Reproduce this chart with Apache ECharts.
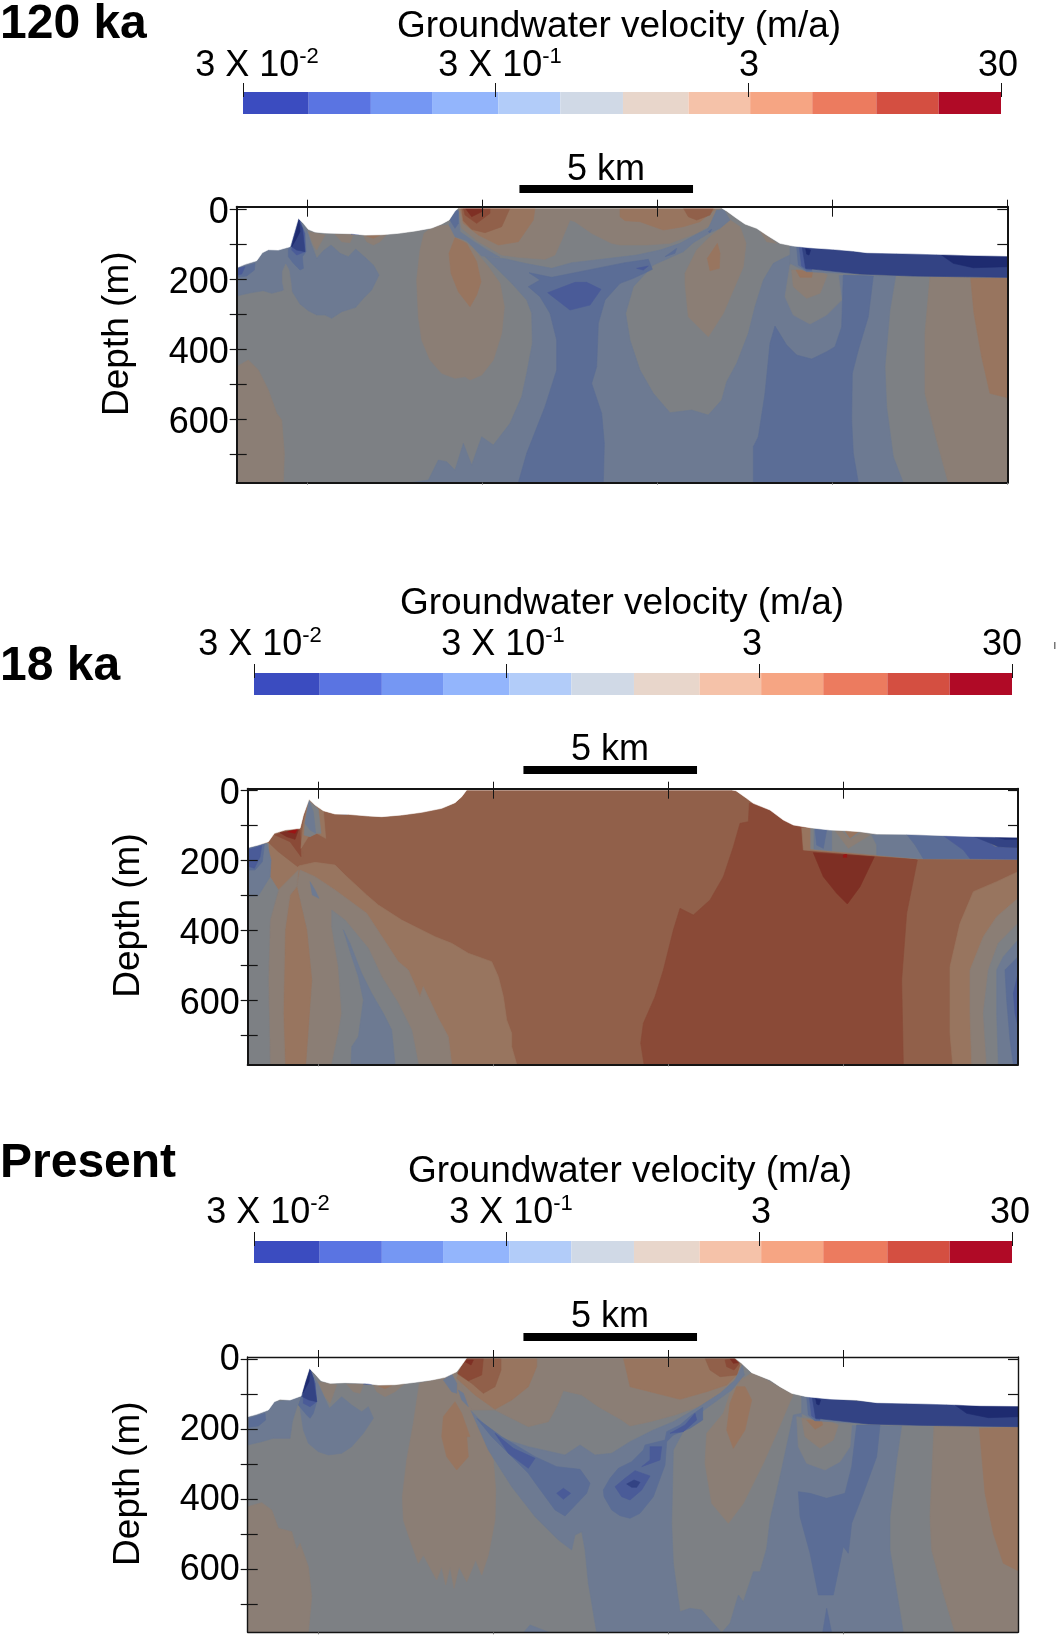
<!DOCTYPE html>
<html><head><meta charset="utf-8">
<style>html,body{margin:0;padding:0;background:#fff}#c{width:1057px;height:1637px}</style>
<script src="https://cdn.jsdelivr.net/npm/echarts@6/dist/echarts.min.js"></script>
</head><body><div id="c"></div>
<script>
// ---------- colour bar values ----------
const velocityEdges = [0.03,0.0546,0.0962,0.168,0.307,0.541,0.957,1.74,3.05,5.37,9.63,17,30];
const velocityTicks = [0.03,0.3,3,30];
const velocityLabels = [['3 X 10','-2'],['3 X 10','-1'],['3',''],['30','']];
const barColors = ['#3b4cc0','#5a74e2','#7597f3','#93b5fc','#b2ccf9','#d0d9e6','#e8d6cb','#f5c2a9','#f6a583','#ec7b5f','#d44f41','#b00a26'];
const depthTicks = [0,100,200,300,400,500,600,700];
const depthLabels = [0,200,400,600];
const distanceTicks = [0,5,10,15,20];
const scaleBarKm = [[6.06,11.02],[5.85,10.81],[5.85,10.81]];
const panelNames = ['120 ka','18 ka','Present'];

// digitised section outlines, one unit = 1/105 km along, 1/1.05 m down
const p1_surface = [[35,203],[60,193],[95,182],[112,158],[130,149],[160,150],[195,140],[207,100],[220,55],[235,70],[250,88],[270,96],[300,99],[330,100],[380,101],[420,105],[470,104],[520,100],[570,93],[620,84],[650,72],[672,60],[690,33],[700,24],[1490,24],[1505,33],[1535,55],[1560,72],[1595,85],[1625,105],[1665,130],[1705,138],[1755,143],[1825,148],[1885,153],[1925,158],[2015,160],[2135,163],[2235,166],[2347,168]];
const p2_surface = [[38,203],[70,195],[100,185],[118,160],[150,150],[195,145],[205,105],[222,58],[240,75],[265,92],[300,102],[340,103],[400,108],[440,110],[500,105],[560,97],[620,85],[660,68],[680,50],[695,30],[1490,30],[1503,32],[1535,55],[1555,70],[1605,90],[1645,120],[1675,135],[1725,143],[1785,150],[1835,152],[1875,155],[1925,162],[2015,163],[2135,167],[2235,170],[2349,172]];
const p3_surface = [[38,200],[65,193],[100,180],[118,155],[135,148],[165,150],[198,138],[210,95],[223,55],[240,72],[258,92],[285,100],[330,98],[390,100],[430,105],[480,104],[540,97],[590,90],[630,82],[665,65],[680,45],[695,24],[1500,24],[1520,40],[1550,68],[1605,90],[1635,110],[1670,130],[1715,140],[1785,147],[1865,150],[1925,158],[2015,160],[2135,163],[2235,167],[2349,168]];

// contour bands, painted in order, as [velocity class, outline]
const p1_bands = [
['o1',[[35,500],[70,480],[100,510],[130,570],[155,640],[170,660],[178,760],[175,848],[35,848]]],
['b1',[[35,288],[60,282],[85,277],[115,272],[140,280],[170,272],[195,260],[205,280],[225,312],[250,332],[275,345],[300,345],[320,355],[350,335],[392,322],[415,295],[440,270],[462,225],[445,195],[420,172],[392,147],[370,170],[345,160],[318,135],[295,152],[275,175],[258,130],[245,90],[220,50],[195,135],[112,150],[35,190]]],
['g',[[172,215],[182,192],[192,210],[198,250],[200,272],[178,274],[172,245]]],
['b2',[[190,170],[205,190],[225,210],[235,205],[232,170],[243,155],[240,100],[222,55],[200,120],[190,150]]],
['b3',[[200,150],[215,165],[240,155],[238,100],[222,55],[205,115]]],
['b4',[[200,140],[215,150],[240,155],[232,85],[220,58],[205,110]]],
['b5',[[222,58],[212,100],[200,140],[212,120],[225,95]]],
['b2',[[38,205],[90,190],[88,210],[65,228],[38,232]]],
['b3',[[38,205],[60,200],[50,222],[38,225]]],
['o1',[[250,95],[265,135],[275,150],[300,105]]],
['o1',[[330,103],[385,103],[375,128],[350,125]]],
['o1',[[415,105],[485,103],[465,125],[445,135],[425,125]]],
['o2',[[425,108],[465,106],[445,115]]],
['b3',[[378,102],[390,97],[402,104]]],
['o1',[[597,100],[585,150],[575,240],[580,350],[590,420],[615,480],[650,520],[690,535],[720,530],[735,540],[770,525],[805,480],[830,400],[838,320],[825,250],[790,200],[765,170],[740,140],[700,110],[670,75],[640,78],[610,90]]],
['o2',[[690,113],[672,160],[678,220],[700,275],[735,320],[755,285],[768,245],[755,185],[725,130]]],
['o1',[[700,24],[1485,24],[1465,70],[1415,100],[1335,130],[1265,135],[1185,135],[1160,130],[1100,100],[1050,65],[1035,60],[1010,120],[990,165],[960,178],[880,172],[830,165],[760,125],[710,85]]],
['o2',[[705,24],[930,24],[925,60],[880,125],[820,135],[760,105],[715,70]]],
['o2',[[1185,24],[1470,28],[1425,65],[1375,80],[1315,90],[1245,65],[1200,62],[1185,50]]],
['o3',[[710,24],[855,24],[830,80],[780,98],[740,88],[715,62]]],
['o3',[[1375,24],[1465,24],[1455,45],[1415,60],[1390,50]]],
['o4',[[715,24],[795,24],[795,40],[755,70],[720,45]]],
['o5',[[722,26],[775,26],[770,35],[740,50]]],
['o1',[[1380,250],[1390,350],[1450,410],[1495,340],[1555,200],[1563,130],[1545,80],[1515,60],[1455,110],[1415,150],[1380,220]]],
['o2',[[1447,175],[1455,212],[1483,205],[1485,160],[1477,130]]],
['o1',[[2115,230],[2100,400],[2100,580],[2135,720],[2170,848],[2347,848],[2347,232]]],
['o2',[[2237,235],[2247,340],[2270,470],[2295,580],[2343,592],[2347,595],[2347,232]]],
['o1',[[1605,92],[1655,130],[1625,125]]],
['b1',[[672,75],[690,110],[725,122],[770,168],[825,172],[790,152],[748,125],[705,95],[700,35],[690,32]]],
['b2',[[675,60],[692,30],[700,32],[700,70],[690,85]]],
['b1',[[780,170],[840,176],[900,190],[980,205],[1040,188],[1110,180],[1235,165],[1305,150],[1365,130],[1410,105],[1450,85],[1475,30],[1497,30],[1515,60],[1485,85],[1455,98],[1405,128],[1375,155],[1285,195],[1225,260],[1202,340],[1215,420],[1245,510],[1285,580],[1335,638],[1400,630],[1450,645],[1490,600],[1505,545],[1535,490],[1570,400],[1590,320],[1615,240],[1645,190],[1680,172],[1695,165],[1695,225],[2012,228],[1995,330],[1980,500],[1985,620],[2005,770],[2035,848],[555,848],[610,840],[640,780],[665,785],[690,810],[715,730],[740,795],[770,710],[805,735],[855,670],[890,590],[905,520],[922,430],[920,340],[905,300],[860,250],[810,200]]],
['b2',[[912,218],[980,232],[1080,212],[1200,188],[1270,178],[1282,208],[1225,235],[1185,250],[1140,300],[1120,370],[1115,500],[1100,550],[1130,640],[1138,730],[1135,848],[880,848],[905,760],[960,620],[995,510],[995,420],[975,340],[945,290],[910,260],[945,240]]],
['b3',[[968,278],[1050,247],[1085,247],[1128,268],[1095,315],[1035,330]]],
['b3',[[1235,205],[1270,198],[1255,210]]],
['b2',[[1320,170],[1355,145],[1350,160]]],
['b2',[[1450,95],[1460,88],[1455,98]]],
['b2',[[1650,378],[1635,430],[1620,580],[1600,710],[1585,740],[1585,848],[1900,848],[1885,760],[1880,660],[1882,520],[1900,450],[1930,350],[1945,228],[1855,225],[1850,380],[1830,440],[1805,455],[1760,477],[1715,465],[1685,435]]],
['g',[[1695,195],[1680,290],[1705,345],[1755,372],[1805,345],[1850,300],[1840,222]]],
['o1',[[1700,210],[1705,260],[1745,295],[1785,280],[1807,225],[1775,210]]],
['o2',[[1713,210],[1725,232],[1760,232],[1763,215]]],
['b1',[[1695,140],[1695,190],[1745,215],[1905,222],[2065,228],[2347,232],[2347,168],[1925,158],[1825,148],[1705,138]]],
['b2',[[1715,141],[1720,195],[1745,213],[1760,213],[1760,143]]],
['b3',[[1723,142],[1730,198],[1745,208],[1760,208],[1760,143]]],
['b4',[[1732,143],[1742,205],[1905,222],[2065,228],[2347,232],[2347,168],[2135,163],[2015,160],[1925,158],[1825,148]]],
['b5',[[2150,165],[2185,190],[2245,203],[2347,200],[2347,170]]],
['b5',[[1742,146],[1757,150],[1752,165],[1745,162]]]
];

const p2_bands = [
['o4',[[1543,70],[1540,125],[1515,130],[1495,200],[1465,290],[1425,360],[1375,405],[1335,385],[1315,450],[1285,570],[1260,650],[1225,730],[1217,790],[1227,853],[2005,853],[2000,600],[2015,400],[2047,240],[1725,145],[1675,135],[1645,120],[1605,90],[1555,70]]],
['o5',[[1735,218],[1765,290],[1805,340],[1837,372],[1875,320],[1918,230]]],
['o6',[[1825,225],[1835,222],[1835,232],[1825,232]]],
['o2',[[2349,275],[2285,305],[2215,335],[2175,430],[2145,560],[2145,760],[2153,853],[2349,853]]],
['o1',[[2349,355],[2285,410],[2245,470],[2205,570],[2205,700],[2210,853],[2349,853]]],
['g',[[2349,430],[2290,490],[2260,570],[2245,700],[2255,853],[2349,853]]],
['b1',[[2349,480],[2305,530],[2285,570],[2285,700],[2290,853],[2349,853]]],
['b2',[[2349,530],[2310,570],[2315,660],[2325,780],[2335,853],[2349,853]]],
['b3',[[2349,580],[2335,640],[2340,700],[2349,740]]],
['o2',[[100,185],[190,258],[240,247],[300,255],[330,285],[395,345],[430,375],[500,420],[600,470],[650,490],[700,520],[770,545],[790,590],[805,650],[815,720],[830,760],[830,800],[845,853],[38,853],[38,203]]],
['o1',[[195,270],[240,290],[300,330],[395,400],[490,545],[520,570],[555,650],[565,620],[610,715],[640,770],[650,853],[212,853],[230,600],[215,450],[185,320]]],
['o2',[[185,320],[165,345],[150,450],[145,700],[150,853],[212,853],[230,600],[215,450]]],
['o1',[[190,270],[130,330],[105,420],[100,600],[105,853],[150,853],[145,700],[150,450],[165,345],[185,320]]],
['g',[[38,853],[105,853],[100,600],[105,420],[130,330],[105,290],[100,190],[38,205]]],
['b1',[[38,350],[70,347],[105,290],[108,240],[95,190],[38,205]]],
['b2',[[38,270],[60,270],[82,245],[88,192],[38,205]]],
['b3',[[38,210],[80,197],[75,230],[58,265],[38,258]]],
['g',[[290,390],[330,420],[400,505],[440,590],[490,670],[530,750],[550,853],[290,853],[310,760],[320,700],[310,560],[290,440]]],
['b1',[[325,450],[345,490],[380,580],[410,640],[445,700],[470,750],[480,853],[348,853],[350,800],[370,770],[385,660],[370,590],[350,530]]],
['b1',[[225,305],[240,330],[252,355],[232,345]]],
['o3',[[100,187],[118,160],[150,150],[195,145],[205,230],[188,260],[130,215]]],
['o4',[[120,165],[150,155],[195,150],[198,230],[165,185]]],
['o5',[[135,158],[190,150],[180,178],[155,170]]],
['o6',[[158,155],[187,148],[180,160]]],
['o2',[[198,205],[205,130],[222,58],[265,92],[272,175],[245,160],[220,170]]],
['g',[[207,165],[210,128],[222,62],[250,88],[258,160],[245,160],[225,170]]],
['b1',[[210,130],[222,62],[235,95],[242,160],[225,150]]],
['b2',[[315,101],[325,98],[335,103]]],
['b2',[[385,104],[395,100],[410,106]]],
['o2',[[1700,143],[1705,210],[1925,228],[2045,236],[2349,238],[2349,172],[2135,167],[1925,162],[1835,152],[1725,145]]],
['g',[[1727,145],[1727,207],[1925,225],[2045,236],[2349,238],[2349,172],[2135,167],[1925,162],[1835,152]]],
['b1',[[1737,146],[1737,207],[1790,212],[1790,150]]],
['b2',[[1740,147],[1745,195],[1765,205],[1775,150]]],
['o1',[[1800,152],[1840,205],[1905,165],[1880,157],[1845,180],[1820,152]]],
['o2',[[1830,152],[1845,175],[1870,155]]],
['b1',[[1910,165],[2015,163],[2040,195],[2065,236],[1925,225],[1925,195]]],
['b2',[[2015,163],[2125,167],[2185,210],[2205,236],[2065,236],[2040,195]]],
['b3',[[2125,167],[2235,170],[2280,200],[2349,205],[2349,238],[2205,236],[2185,210]]],
['b4',[[2215,169],[2255,185],[2290,200],[2349,203],[2349,172]]],
['b5',[[2280,171],[2310,178],[2349,178],[2349,172]]]
];

const p3_bands = [
['o1',[[38,470],[80,458],[110,480],[130,535],[170,545],[185,600],[195,580],[220,650],[230,740],[220,848],[38,848]]],
['b1',[[38,285],[80,275],[115,265],[165,265],[172,215],[178,195],[195,140],[165,150],[118,155],[38,195]]],
['b1',[[195,175],[205,240],[220,280],[250,305],[280,315],[320,310],[350,290],[385,250],[415,205],[400,170],[380,185],[350,165],[320,140],[283,175],[265,135],[248,100],[225,55],[198,138]]],
['b2',[[190,165],[215,195],[225,205],[235,190],[245,155],[240,100],[225,58],[200,135]]],
['b3',[[205,160],[225,170],[245,155],[240,100],[225,58],[205,120]]],
['b4',[[202,140],[222,150],[245,155],[235,85],[225,58]]],
['b5',[[225,58],[203,130],[222,95]]],
['b2',[[42,205],[90,190],[92,210],[70,228],[42,232]]],
['o1',[[250,95],[270,140],[285,160],[305,105]]],
['o1',[[335,103],[385,103],[375,130],[355,125]]],
['o1',[[415,105],[510,100],[480,125],[450,140],[425,125]]],
['o2',[[430,108],[470,107],[450,116]]],
['b3',[[385,102],[395,97],[410,104]]],
['o1',[[640,75],[695,24],[1500,24],[1520,40],[1525,90],[1405,165],[1320,195],[1245,215],[1185,228],[1160,210],[1090,170],[1040,135],[985,122],[965,170],[940,215],[880,230],[780,180],[710,180]]],
['o1',[[553,100],[535,220],[515,330],[502,440],[505,510],[525,570],[550,640],[565,615],[605,690],[620,650],[632,705],[645,650],[657,715],[672,650],[695,695],[722,630],[740,675],[760,615],[780,510],[782,420],[775,330],[745,260],[720,210],[710,180],[660,60],[620,85]]],
['o2',[[660,155],[625,200],[620,260],[635,320],[665,360],[700,320],[695,260],[705,260],[680,190]]],
['o1',[[1415,250],[1410,340],[1430,460],[1480,520],[1525,460],[1585,340],[1625,250],[1665,155],[1675,135],[1595,90],[1550,68],[1520,90],[1485,130],[1465,190]]],
['o2',[[1475,240],[1495,295],[1530,240],[1550,150],[1530,110],[1505,110],[1485,160]]],
['o1',[[2097,228],[2085,500],[2090,600],[2125,730],[2160,848],[2349,848],[2349,232]]],
['o2',[[2233,235],[2250,430],[2275,550],[2305,640],[2349,662],[2349,232]]],
['o2',[[665,85],[720,135],[780,178],[830,150],[880,110],[905,50],[905,24],[690,24]]],
['o2',[[1165,24],[1500,24],[1510,70],[1475,105],[1415,125],[1335,148],[1245,125],[1185,110],[1175,65]]],
['o3',[[668,72],[710,100],[745,130],[780,110],[798,60],[798,24],[695,24]]],
['o3',[[1410,24],[1425,60],[1455,80],[1505,75],[1515,45],[1497,24]]],
['o4',[[668,70],[700,92],[740,75],[745,24],[695,24]]],
['o4',[[1470,30],[1475,50],[1497,60],[1513,40],[1495,26]]],
['o5',[[690,35],[708,45],[715,30],[695,30]]],
['o5',[[1485,26],[1495,40],[1510,38],[1498,26]]],
['b1',[[625,90],[650,72],[665,100],[665,130],[650,125]]],
['b1',[[670,120],[685,130],[700,170],[680,150]]],
['b1',[[708,182],[750,225],[800,265],[880,290],[990,315],[1035,285],[1080,315],[1130,310],[1185,275],[1255,240],[1315,215],[1385,175],[1455,130],[1500,90],[1522,45],[1528,75],[1490,120],[1410,178],[1355,225],[1315,300],[1310,520],[1315,640],[1335,785],[1365,775],[1400,780],[1460,848],[1485,820],[1510,735],[1525,755],[1555,665],[1575,665],[1595,595],[1605,510],[1635,380],[1675,195],[1700,190],[1700,225],[2000,228],[1985,330],[1965,500],[1965,600],[2005,848],[1085,848],[1060,700],[1050,600],[1040,545],[1020,555],[1010,600],[970,570],[900,500],[830,410],[760,300]]],
['b1',[[865,848],[885,825],[945,848]]],
['b2',[[725,205],[800,260],[900,320],[965,350],[1035,358],[1065,400],[1055,430],[990,498],[960,480],[905,405],[880,370],[820,310],[770,260]]],
['b3',[[780,250],[835,295],[900,325],[880,355],[820,310]]],
['b3',[[965,430],[985,415],[1007,430],[985,448]]],
['b2',[[1105,420],[1125,385],[1150,355],[1190,335],[1225,300],[1230,285],[1290,270],[1295,245],[1335,225],[1370,195],[1403,172],[1403,210],[1365,235],[1315,255],[1295,275],[1290,345],[1255,440],[1215,490],[1185,505],[1155,497],[1130,480],[1107,440]]],
['b3',[[1140,410],[1170,385],[1200,362],[1245,378],[1220,420],[1185,450],[1160,440]]],
['b4',[[1175,402],[1197,390],[1215,397],[1205,412],[1190,412]]],
['b3',[[1245,290],[1280,290],[1275,330],[1220,350],[1245,330]]],
['b3',[[1305,250],[1350,225],[1380,190],[1385,210],[1345,245]]],
['b2',[[1690,425],[1695,500],[1725,610],[1750,735],[1795,735],[1825,590],[1840,610],[1850,520],[1885,430],[1925,320],[1935,225],[1865,225],[1850,350],[1830,430],[1775,445],[1725,430]]],
['b2',[[1775,775],[1763,848],[1790,848]]],
['g',[[1685,200],[1690,290],[1715,340],[1770,360],[1815,335],[1845,290],[1850,225]]],
['o1',[[1700,205],[1710,260],[1755,295],[1795,270],[1810,225],[1775,210]]],
['o2',[[1715,210],[1740,238],[1763,225],[1760,212]]],
['b1',[[1700,140],[1700,190],[1740,212],[1900,222],[2055,226],[2349,230],[2349,168],[1925,158],[1825,150],[1725,140]]],
['b2',[[1715,141],[1720,195],[1740,212],[1755,212],[1755,143]]],
['b3',[[1723,142],[1730,198],[1745,208],[1755,208],[1755,143]]],
['b4',[[1732,143],[1742,205],[1900,222],[2055,226],[2349,230],[2349,168],[2135,163],[2015,160],[1925,158],[1825,150]]],
['b5',[[2160,165],[2195,190],[2260,203],[2349,200],[2349,170]]],
['b5',[[1742,146],[1757,150],[1752,165],[1745,162]]]
];

// ---------- class colours and page layout (not data) ----------
const classColors = {g:'#7d8084',b1:'#6d7a92',b2:'#5b6d96',b3:'#4a5b98',b4:'#334384',b5:'#1e2b70',
  o1:'#8b7e75',o2:'#98755f',o3:'#91604a',o4:'#8a4a37',o5:'#7e2f24',o6:'#9c1414'};
const panels = [
 {surface:p1_surface,bands:p1_bands,base:'g', x0:247,z0:27,l:35,r:2347,t:20,b:848,lw:2,labPad:8,
  grid:[236.7,206.7,770.6,276], bar:[243,92,758,22], lab:25, title:[619,27], ticks:[[257,66],[500,66],[749,66],[998,66]], sc:[606,170,-57,189]},
 {surface:p2_surface,bands:p2_bands,base:'o3',x0:251,z0:30,l:38,r:2349,t:26,b:853,lw:2,labPad:9,
  grid:[247.7,788.7,770.3,275.6], bar:[254,673,758,22], lab:667, title:[622,604], ticks:[[260,645],[503,645],[752,645],[1002,645]], sc:[610,750,-57,770]},
 {surface:p3_surface,bands:p3_bands,base:'g', x0:251,z0:27,l:38,r:2349,t:21,b:847,lw:1.4,labPad:2,
  grid:[247.7,1357,770.3,275.3], bar:[254,1241,758,22], lab:1164, title:[630,1172], ticks:[[268,1213],[511,1213],[761,1213],[1010,1213]], sc:[610,1317,-57,1337]}
];
const FONT='"Liberation Sans",Arial,sans-serif';
const ink='#141414';

const grids=[],xAxes=[],yAxes=[],series=[],graphics=[];
function txt(t,x,y,size,extra){graphics.push({type:'text',x:x,y:y,silent:true,style:Object.assign({text:t,fill:'#000',font:size+'px '+FONT,textAlign:'center',textVerticalAlign:'middle'},extra||{})});}

panels.forEach((p,pi)=>{
  const km=v=>(v-p.x0)/105, m=v=>(v-p.z0)/1.05;
  const toData=pts=>pts.map(q=>[km(q[0]),m(q[1])]);
  const g=grids.length;
  grids.push({left:p.grid[0],top:p.grid[1],width:p.grid[2],height:p.grid[3]});
  const xMin=km(p.l),xMax=km(p.r),yMin=m(p.t),yMax=m(p.b);
  const line={show:true,onZero:false,lineStyle:{color:ink,width:p.lw}};
  const noLine={show:false,onZero:false};
  const baseX={type:'value',gridIndex:g,z:10,min:xMin,max:xMax,splitLine:{show:false},axisLabel:{show:false},axisLine:line,
    axisTick:{show:true,customValues:distanceTicks,lineStyle:{color:ink,width:1}}};
  const xi=xAxes.length;
  xAxes.push(Object.assign({},baseX,{position:'top',axisTick:Object.assign({},baseX.axisTick,{length:7})}));
  xAxes.push(Object.assign({},baseX,{position:'top',axisLine:noLine,axisTick:Object.assign({},baseX.axisTick,{length:10,inside:true})}));
  xAxes.push(Object.assign({},baseX,{position:'bottom',axisTick:Object.assign({},baseX.axisTick,{length:2,lineStyle:{color:'#777',width:1}})}));
  const baseY={type:'value',gridIndex:g,z:10,inverse:true,min:yMin,max:yMax,splitLine:{show:false},axisLine:line,axisLabel:{show:false},
    axisTick:{show:true,customValues:depthTicks,lineStyle:{color:ink,width:1.2}}};
  const yi=yAxes.length;
  yAxes.push(Object.assign({},baseY,{position:'left',name:'Depth (m)',nameLocation:'middle',nameGap:100,nameRotate:90,
    nameTextStyle:{fontFamily:FONT,fontSize:37,color:'#000',padding:[0,0,0,22]},
    axisLabel:{show:true,customValues:depthLabels,margin:8,showMinLabel:true,showMaxLabel:true,
      formatter:'{v|{value}}',rich:{v:{fontFamily:FONT,fontSize:36,color:'#000',padding:[p.labPad,0,0,0]}}},
    axisTick:Object.assign({},baseY.axisTick,{length:7})}));
  yAxes.push(Object.assign({},baseY,{position:'left',axisLine:noLine,axisTick:Object.assign({},baseY.axisTick,{length:10,inside:true})}));
  yAxes.push(Object.assign({},baseY,{position:'right',axisTick:Object.assign({},baseY.axisTick,{customValues:[0,100],length:10,inside:true})}));

  const ground=p.surface.concat([[p.r,p.b],[p.l,p.b]]);
  const sky=p.surface.concat([[p.r,p.t],[p.l,p.t]]);
  const layers=[[p.base,ground]].concat(p.bands).concat([['sky',sky]]).map(l=>({c:l[0]==='sky'?'#fff':classColors[l[0]],pts:toData(l[1])}));
  series.push({type:'custom',xAxisIndex:xi,yAxisIndex:yi,silent:true,clip:true,animation:false,z:1,
    data:layers.map(l=>l.pts[0]),
    renderItem:(params,api)=>{const l=layers[params.dataIndex];
      return {type:'polygon',shape:{points:l.pts.map(q=>api.coord(q))},style:{fill:l.c,stroke:l.c,lineWidth:0.6}};}});
  const sb=scaleBarKm[pi];
  series.push({type:'custom',xAxisIndex:xi,yAxisIndex:yi,silent:true,clip:false,animation:false,z:5,
    data:[[sb[0],p.sc[2]]],
    renderItem:(params,api)=>{const a=api.coord([sb[0],yMin]),b=api.coord([sb[1],yMin]);
      return {type:'rect',shape:{x:a[0],y:p.sc[3]-4,width:b[0]-a[0],height:8},style:{fill:'#000'}};}});

  const g2=grids.length;
  grids.push({left:p.bar[0],top:p.bar[1],width:p.bar[2],height:p.bar[3]});
  const vx=Math.log10, xb=xAxes.length, yb=yAxes.length;
  const tickVals=velocityTicks.map(vx);
  const barX={type:'value',gridIndex:g2,z:10,position:'top',min:vx(velocityTicks[0]),max:vx(velocityTicks[3]),splitLine:{show:false},axisLabel:{show:false},axisLine:noLine};
  xAxes.push(Object.assign({},barX,{axisTick:{show:true,customValues:tickVals,length:9,lineStyle:{color:ink,width:1}}}));
  xAxes.push(Object.assign({},barX,{axisTick:{show:true,customValues:tickVals,length:5,inside:true,lineStyle:{color:ink,width:1}}}));
  yAxes.push({type:'value',gridIndex:g2,min:0,max:1,show:false});
  const cells=barColors.map((c,i)=>[vx(velocityEdges[i]),vx(velocityEdges[i+1]),c]);
  series.push({type:'custom',xAxisIndex:xb,yAxisIndex:yb,silent:true,animation:false,z:1,
    data:cells.map(c=>[c[0],c[1]]),
    renderItem:(params,api)=>{const c=cells[params.dataIndex];const a=api.coord([c[0],1]),b=api.coord([c[1],0]);
      return {type:'rect',shape:{x:a[0],y:a[1],width:b[0]-a[0],height:b[1]-a[1]},style:{fill:c[2]}};}});

  txt(panelNames[pi],0,p.lab,48,{textAlign:'left',font:'bold 48px '+FONT});
  txt('Groundwater velocity (m/a)',p.title[0],p.title[1],37);
  velocityLabels.forEach((lb,i)=>{
    const t=p.ticks[i];
    graphics.push({type:'text',x:t[0],y:t[1],silent:true,style:{
      text:lb[1]?'{a|'+lb[0]+'}{s|'+lb[1]+'}':'{a|'+lb[0]+'}',textAlign:'center',textVerticalAlign:'middle',fill:'#000',
      rich:{a:{font:'36px '+FONT,fill:'#000',lineHeight:40},s:{font:'22px '+FONT,fill:'#000',verticalAlign:'top',lineHeight:40}}}});
  });
  txt('5 km',p.sc[0],p.sc[1],36);
});
graphics.push({type:'rect',silent:true,shape:{x:1054,y:642,width:1.5,height:7},style:{fill:'#777'}});

const chart=echarts.init(document.getElementById('c'),null,{renderer:'canvas',width:1057,height:1637});
chart.setOption({animation:false,backgroundColor:'#fff',grid:grids,xAxis:xAxes,yAxis:yAxes,series:series,graphic:{elements:graphics}});
</script></body></html>
